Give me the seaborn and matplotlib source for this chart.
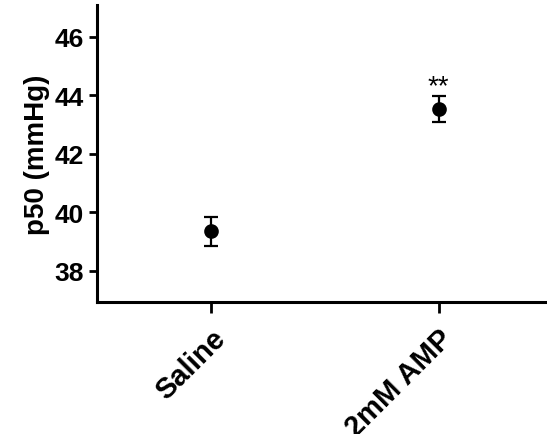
import matplotlib
matplotlib.use("Agg")
import matplotlib.pyplot as plt
import seaborn as sns
import pandas as pd

groups = ["Saline", "2mM AMP"]
means = [39.35, 43.53]
sems = [0.50, 0.44]
annotations = ["", "**"]

sns.set_style("ticks")
plt.rcParams['font.family'] = ['Liberation Sans', 'DejaVu Sans']
plt.rcParams['font.weight'] = 'bold'
plt.rcParams['text.color'] = 'black'
plt.rcParams['axes.labelcolor'] = 'black'
plt.rcParams['xtick.color'] = 'black'
plt.rcParams['ytick.color'] = 'black'

df = pd.DataFrame({"group": groups, "p50": means})

fig = plt.figure(figsize=(5.47, 4.35), dpi=100)
ax = fig.add_axes([97/547, 1 - 303/435, 1 - 97/547 + 0.01, (303 - 6)/435])

sns.pointplot(data=df, x="group", y="p50", order=groups, color="black",
              linestyle="none", markers="o", markersize=8.5, errorbar=None, ax=ax)
ax.errorbar(range(len(groups)), means, yerr=sems, fmt="none", ecolor="black",
            elinewidth=1.6, capsize=5, capthick=1.6)

for i, (m, s, a) in enumerate(zip(means, sems, annotations)):
    if a:
        ax.text(i, m + s + 0.33, a, ha="center", va="center", fontsize=20,
                fontweight="normal", color="black")

ax.set_xlim(-0.5, 1.5)
ax.set_ylim(36.94, 47.09)
ax.set_yticks([38, 40, 42, 44, 46])
ax.set_xlabel("")
ax.set_ylabel("p50 (mmHg)", fontsize=20, fontweight="bold", labelpad=3)
ax.tick_params(axis="y", labelsize=19, width=2, length=6, color="black", labelcolor="black")
ax.tick_params(axis="x", labelsize=21, width=2, length=8, pad=8, color="black", labelcolor="black")
for lab in ax.get_yticklabels() + ax.get_xticklabels():
    lab.set_fontweight("bold")
plt.setp(ax.get_xticklabels(), rotation=45, ha="right", rotation_mode="anchor")
for side in ["left", "bottom"]:
    ax.spines[side].set_linewidth(2.2)
    ax.spines[side].set_color("black")
sns.despine(ax=ax)

fig.savefig("out.png", dpi=100)
